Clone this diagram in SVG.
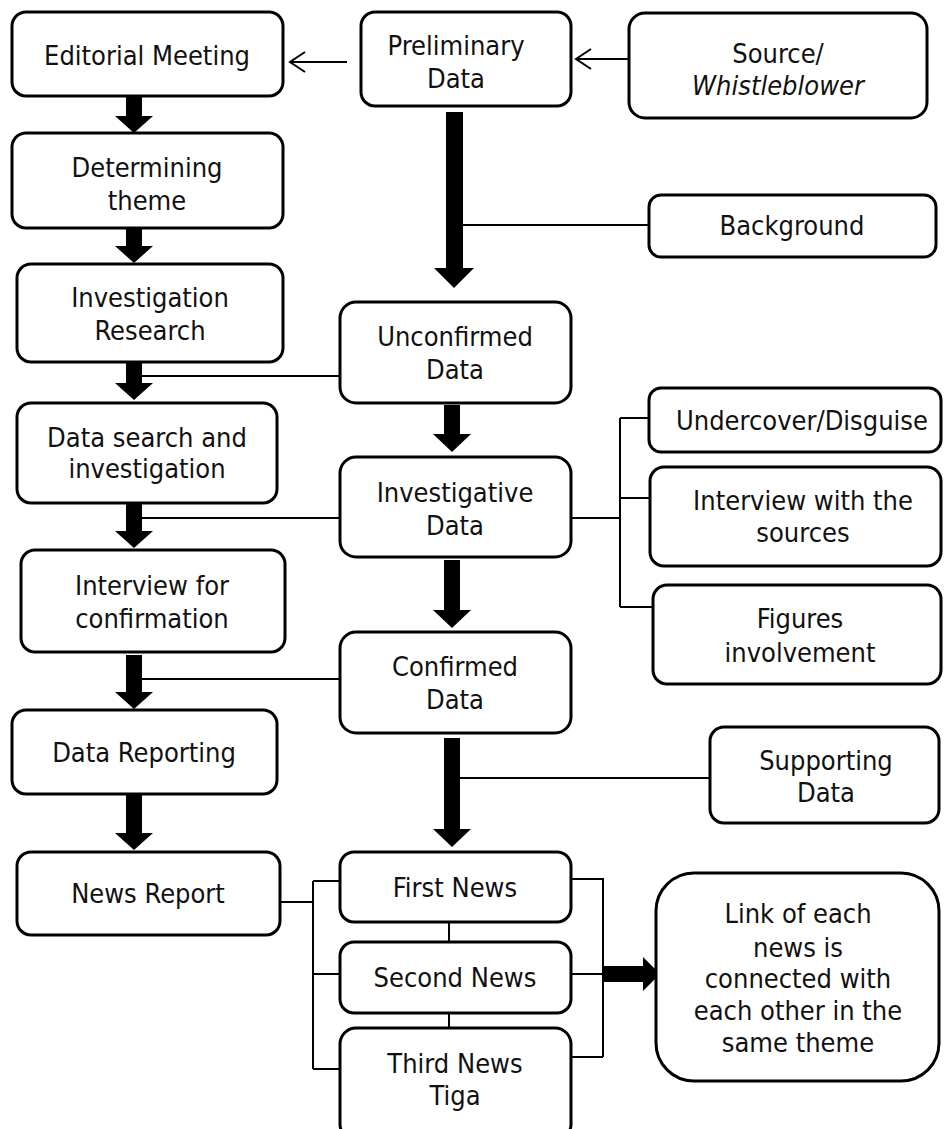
<svg xmlns="http://www.w3.org/2000/svg" width="944" height="1129" viewBox="0 0 944 1129">
<style>
.box{fill:#fff;stroke:#000;stroke-width:3}
.t{font-family:"DejaVu Sans Condensed","DejaVu Sans",sans-serif;font-size:27px;fill:#111;text-anchor:middle}
.ln{fill:none;stroke:#000;stroke-width:2}
.thick{fill:#000;stroke:none}
</style>
<rect width="944" height="1129" fill="#fff"/>
<g id="connectors">
<!-- open arrows -->
<path class="ln" d="M347,62 L290,62 M305,52 L290,62 L305,72"/>
<path class="ln" d="M631,59 L576,59 M591,49 L576,59 L591,69"/>
<!-- left column thick arrows -->
<path class="thick" d="M126,96 L142,96 L142,116 L153,116 L134,133 L115,116 L126,116 Z"/>
<path class="thick" d="M126,228 L142,228 L142,246 L153,246 L134,263 L115,246 L126,246 Z"/>
<path class="thick" d="M126,362 L142,362 L142,383 L153,383 L134,400 L115,383 L126,383 Z"/>
<path class="thick" d="M126,503 L142,503 L142,531 L153,531 L134,548 L115,531 L126,531 Z"/>
<path class="thick" d="M126,655 L142,655 L142,692 L153,692 L134,709 L115,692 L126,692 Z"/>
<path class="thick" d="M126,794 L142,794 L142,833 L153,833 L134,850 L115,833 L126,833 Z"/>
<!-- middle thick arrows -->
<path class="thick" d="M446,112 L463,112 L463,268 L474,268 L454,288 L434,268 L446,268 Z"/>
<path class="thick" d="M444,405 L460,405 L460,434 L471,434 L452,452 L433,434 L444,434 Z"/>
<path class="thick" d="M444,560 L460,560 L460,610 L471,610 L452,628 L433,610 L444,610 Z"/>
<path class="thick" d="M444,738 L460,738 L460,829 L471,829 L452,847 L433,829 L444,829 Z"/>
<!-- side branches -->
<line class="ln" x1="463" y1="225" x2="649" y2="225"/>
<line class="ln" x1="142" y1="376" x2="340" y2="376"/>
<line class="ln" x1="142" y1="518" x2="340" y2="518"/>
<line class="ln" x1="142" y1="679" x2="340" y2="679"/>
<line class="ln" x1="460" y1="778" x2="710" y2="778"/>
<!-- investigative bracket -->
<path class="ln" d="M571,518 L620,518 M620,418 L620,607 M620,418 L649,418 M620,498 L650,498 M620,607 L653,607"/>
<!-- news brackets -->
<path class="ln" d="M280,902 L313,902 M313,881 L313,1069 M313,881 L340,881 M313,974 L340,974 M313,1069 L340,1069"/>
<path class="ln" d="M571,879 L603,879 L603,1057 M571,974 L603,974 M571,1057 L603,1057"/>
<path class="ln" d="M449,922 L449,942 M449,1013 L449,1028"/>
<path class="thick" d="M604,966 L643,966 L643,957 L660,974 L643,991 L643,982 L604,982 Z"/>
</g>
<g id="editorial"><rect class="box" x="12" y="12" width="271" height="84" rx="14"/><text class="t" x="147" y="65">Editorial Meeting</text></g>
<g id="preliminary"><rect class="box" x="361" y="12" width="210" height="94" rx="14"/><text class="t" x="456" y="55">Preliminary</text><text class="t" x="456" y="88">Data</text></g>
<g id="source"><rect class="box" x="629" y="13" width="298" height="105" rx="16"/><text class="t" x="778" y="63">Source/</text><text class="t" x="778" y="95" font-style="italic">Whistleblower</text></g>
<g id="determining"><rect class="box" x="12" y="133" width="271" height="95" rx="14"/><text class="t" x="147" y="177">Determining</text><text class="t" x="147" y="210">theme</text></g>
<g id="background"><rect class="box" x="649" y="195" width="287" height="62" rx="12"/><text class="t" x="792" y="235">Background</text></g>
<g id="investigation-research"><rect class="box" x="17" y="264" width="266" height="98" rx="14"/><text class="t" x="150" y="307">Investigation</text><text class="t" x="150" y="340">Research</text></g>
<g id="unconfirmed"><rect class="box" x="340" y="302" width="231" height="101" rx="16"/><text class="t" x="455" y="346">Unconfirmed</text><text class="t" x="455" y="379">Data</text></g>
<g id="undercover"><rect class="box" x="649" y="388" width="292" height="64" rx="12"/><text class="t" x="802" y="430">Undercover/Disguise</text></g>
<g id="data-search"><rect class="box" x="17" y="403" width="260" height="100" rx="14"/><text class="t" x="147" y="447">Data search and</text><text class="t" x="147" y="478">investigation</text></g>
<g id="investigative"><rect class="box" x="340" y="457" width="231" height="100" rx="16"/><text class="t" x="455" y="502">Investigative</text><text class="t" x="455" y="535">Data</text></g>
<g id="interview-sources"><rect class="box" x="650" y="467" width="291" height="99" rx="14"/><text class="t" x="803" y="510">Interview with the</text><text class="t" x="803" y="542">sources</text></g>
<g id="interview-confirmation"><rect class="box" x="21" y="550" width="264" height="102" rx="14"/><text class="t" x="152" y="595">Interview for</text><text class="t" x="152" y="628">confirmation</text></g>
<g id="figures"><rect class="box" x="653" y="585" width="288" height="99" rx="14"/><text class="t" x="800" y="628">Figures</text><text class="t" x="800" y="662">involvement</text></g>
<g id="confirmed"><rect class="box" x="340" y="632" width="231" height="101" rx="16"/><text class="t" x="455" y="676">Confirmed</text><text class="t" x="455" y="709">Data</text></g>
<g id="data-reporting"><rect class="box" x="12" y="710" width="265" height="84" rx="14"/><text class="t" x="144" y="762">Data Reporting</text></g>
<g id="supporting"><rect class="box" x="710" y="727" width="229" height="96" rx="14"/><text class="t" x="826" y="770">Supporting</text><text class="t" x="826" y="802">Data</text></g>
<g id="news-report"><rect class="box" x="17" y="852" width="263" height="83" rx="14"/><text class="t" x="148" y="903">News Report</text></g>
<g id="first-news"><rect class="box" x="340" y="852" width="231" height="70" rx="14"/><text class="t" x="455" y="897">First News</text></g>
<g id="second-news"><rect class="box" x="340" y="942" width="231" height="71" rx="14"/><text class="t" x="455" y="987">Second News</text></g>
<g id="third-news"><rect class="box" x="340" y="1028" width="231" height="112" rx="16"/><text class="t" x="455" y="1073">Third News</text><text class="t" x="455" y="1105">Tiga</text></g>
<g id="link"><rect class="box" x="656" y="873" width="283" height="208" rx="38"/><text class="t" x="798" y="923">Link of each</text><text class="t" x="798" y="957">news is</text><text class="t" x="798" y="988">connected with</text><text class="t" x="798" y="1020">each other in the</text><text class="t" x="798" y="1052">same theme</text></g>
</svg>
